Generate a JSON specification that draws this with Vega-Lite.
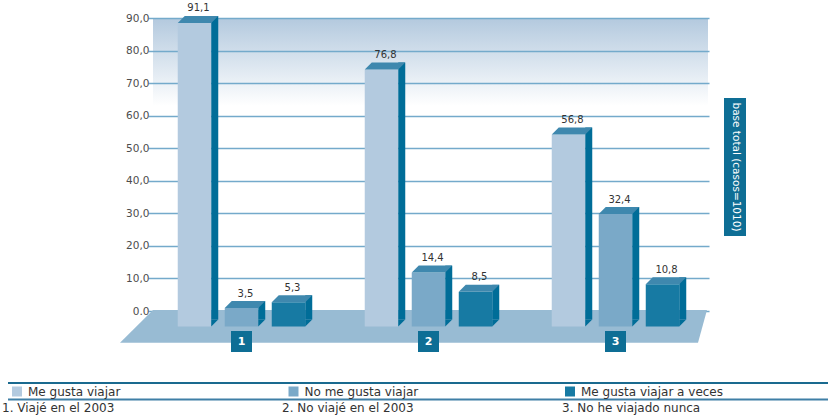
{
  "$schema": "https://vega.github.io/schema/vega-lite/v6.json",
  "width": 555,
  "height": 293,
  "autosize": {"type": "none"},
  "padding": {"left": 153, "top": 18, "right": 120, "bottom": 106},
  "background": "white",
  "view": {
    "stroke": null,
    "fill": {"gradient": "linear", "x1": 0, "y1": 0, "x2": 0, "y2": 1,
      "stops": [{"offset": 0, "color": "#b3c9de"}, {"offset": 0.3, "color": "#ffffff"}, {"offset": 1, "color": "#ffffff"}]}
  },
  "datasets": {
    "valores": [
      {"grupo": 1, "serie": "Me gusta viajar", "valor": 91.1},
      {"grupo": 1, "serie": "No me gusta viajar", "valor": 3.5},
      {"grupo": 1, "serie": "Me gusta viajar a veces", "valor": 5.3},
      {"grupo": 2, "serie": "Me gusta viajar", "valor": 76.8},
      {"grupo": 2, "serie": "No me gusta viajar", "valor": 14.4},
      {"grupo": 2, "serie": "Me gusta viajar a veces", "valor": 8.5},
      {"grupo": 3, "serie": "Me gusta viajar", "valor": 56.8},
      {"grupo": 3, "serie": "No me gusta viajar", "valor": 32.4},
      {"grupo": 3, "serie": "Me gusta viajar a veces", "valor": 10.8}
    ],
    "grupos": [
      {"grupo": 1, "desc": "1. Viajé en el 2003"},
      {"grupo": 2, "desc": "2. No viajé en el 2003"},
      {"grupo": 3, "desc": "3. No he viajado nunca"}
    ],
    "nota": [{"texto": "base total (casos=1010)"}]
  },
  "config": {
    "font": "DejaVu Sans",
    "locale": {"number": {"decimal": ",", "thousands": ".", "grouping": [3], "currency": ["", " €"]}}
  },
  "layer": [
    {
      "data": {"name": "nota"},
      "mark": {"type": "point", "shape": "M-88.5,-1L465.5,-1L456.5,31.7L-121.5,31.7Z", "size": 4, "filled": true, "opacity": 1, "strokeWidth": 0, "color": "#98bbd3"},
      "encoding": {
        "x": {"datum": 1, "type": "ordinal", "scale": {"domain": [1, 2, 3], "range": [-5, 556], "paddingInner": 0, "paddingOuter": 0}, "axis": null},
        "y": {"datum": 0, "type": "quantitative",
          "scale": {"domain": [0, 90], "nice": false, "zero": true},
          "axis": {"values": [0, 10, 20, 30, 40, 50, 60, 70, 80, 90], "tickCount": 10, "format": ".1f",
            "labelExpr": "datum.value == 0 ? '0.0' : datum.label", "labelOverlap": false,
            "domain": false, "ticks": false, "labelPadding": 4, "labelFontSize": 10.5,
            "labelColor": "#4d4d4d", "gridColor": "#74aacb", "gridWidth": 1.5, "title": null, "grid": true}}
      }
    },
    {
      "data": {"name": "nota"},
      "mark": {"type": "rule", "x": -145, "x2": 675, "color": "#1a6a8f", "strokeWidth": 2},
      "encoding": {"y": {"datum": -22.12, "type": "quantitative"}}
    },
    {
      "data": {"name": "nota"},
      "mark": {"type": "rule", "x": -145, "x2": 675, "color": "#3f7fa6", "strokeWidth": 2},
      "encoding": {"y": {"datum": -27.18, "type": "quantitative"}}
    },
    {
      "data": {"name": "grupos"},
      "mark": {"type": "point", "shape": "square", "size": 441, "filled": true, "opacity": 1, "strokeWidth": 0, "yOffset": 30.5},
      "encoding": {
        "x": {"field": "grupo", "type": "ordinal"},
        "y": {"datum": 0, "type": "quantitative"},
        "fill": {"field": "desc", "type": "nominal",
          "scale": {"domain": ["1. Viajé en el 2003", "2. No viajé en el 2003", "3. No he viajado nunca"], "range": ["#0e6e95", "#0e6e95", "#0e6e95"]},
          "legend": {"orient": "none", "legendX": -163, "legendY": 383.5, "direction": "horizontal", "columns": 3,
            "gridAlign": "all", "columnPadding": 129, "title": null, "symbolSize": 0, "symbolStrokeWidth": 0,
            "symbolOpacity": 0, "labelOffset": 0, "labelFontSize": 12, "labelColor": "#333333", "padding": 0}}
      }
    },
    {
      "data": {"name": "grupos"},
      "mark": {"type": "text", "yOffset": 30.5, "color": "white", "fontSize": 11, "fontWeight": "bold", "baseline": "middle", "align": "center"},
      "encoding": {
        "x": {"field": "grupo", "type": "ordinal"},
        "y": {"datum": 0, "type": "quantitative"},
        "text": {"field": "grupo", "type": "nominal"}
      }
    },
    {
      "data": {"name": "nota"},
      "mark": {"type": "point", "shape": "M108.5,-69L130.5,-69L130.5,69L108.5,69Z", "size": 4, "filled": true, "opacity": 1, "strokeWidth": 0, "color": "#0e6e95"},
      "encoding": {
        "x": {"datum": 3, "type": "ordinal"},
        "y": {"datum": 44.23, "type": "quantitative"}
      }
    },
    {
      "data": {"name": "nota"},
      "mark": {"type": "text", "xOffset": 120, "angle": 90, "color": "white", "fontSize": 10.5, "align": "center", "baseline": "middle"},
      "encoding": {
        "x": {"datum": 3, "type": "ordinal"},
        "y": {"datum": 44.23, "type": "quantitative"},
        "text": {"field": "texto", "type": "nominal"}
      }
    },
    {
      "data": {"name": "valores"},
      "mark": {"type": "bar", "width": 33.5, "yOffset": 8.5, "y2Offset": 15.5},
      "encoding": {
        "x": {"field": "grupo", "type": "ordinal"},
        "xOffset": {"field": "serie", "type": "nominal", "scale": {"domain": ["Me gusta viajar", "No me gusta viajar", "Me gusta viajar a veces"], "paddingInner": 0, "paddingOuter": 0.489}},
        "y": {"field": "valor", "type": "quantitative"},
        "y2": {"datum": 0},
        "color": {"field": "serie", "type": "nominal",
          "scale": {"domain": ["Me gusta viajar", "No me gusta viajar", "Me gusta viajar a veces"], "range": ["#b3cadf", "#7aa9c8", "#177aa3"]},
          "legend": {"orient": "none", "legendX": -142, "legendY": 367.5, "direction": "horizontal", "columns": 3,
            "gridAlign": "all", "columnPadding": 116.5, "title": null, "symbolType": "square", "symbolSize": 100,
            "symbolStrokeWidth": 0, "labelFontSize": 12, "labelColor": "#333333", "labelOffset": 5, "padding": 0,
            "encode": {"symbols": {"update": {"fill": {"signal": "datum.value == 'No me gusta viajar' ? '#4189b0' : datum.value == 'Me gusta viajar a veces' ? '#0a6c95' : '#b4cadf'"}}}}}}
      }
    },
    {
      "data": {"name": "valores"},
      "mark": {"type": "bar", "width": 7, "xOffset": {"expr": "indexof(['Me gusta viajar','No me gusta viajar','Me gusta viajar a veces'], datum.serie) * 47 - 26.75"}, "yOffset": 1.5, "y2Offset": 8.5, "color": "#006d98"},
      "encoding": {
        "x": {"field": "grupo", "type": "ordinal"},
        "y": {"field": "valor", "type": "quantitative"},
        "y2": {"datum": 0}
      }
    },
    {
      "data": {"name": "valores"},
      "mark": {"type": "point", "shape": "M16.75,8.5L16.75,15.5L23.75,8.5Z", "size": 4, "filled": true, "opacity": 1, "strokeWidth": 0, "color": "#006d98"},
      "encoding": {
        "x": {"field": "grupo", "type": "ordinal"},
        "xOffset": {"field": "serie", "type": "nominal"},
        "y": {"datum": 0, "type": "quantitative"}
      }
    },
    {
      "data": {"name": "valores"},
      "mark": {"type": "point", "shape": "M-16.75,8.5L16.75,8.5L23.75,1.5L-9.75,1.5Z", "size": 4, "filled": true, "opacity": 1, "strokeWidth": 0, "color": "#3f88ae"},
      "encoding": {
        "x": {"field": "grupo", "type": "ordinal"},
        "xOffset": {"field": "serie", "type": "nominal"},
        "y": {"field": "valor", "type": "quantitative"}
      }
    },
    {
      "data": {"name": "valores"},
      "mark": {"type": "text", "dx": 4, "yOffset": -6, "fontSize": 10, "color": "#333333", "baseline": "middle", "align": "center"},
      "encoding": {
        "x": {"field": "grupo", "type": "ordinal"},
        "xOffset": {"field": "serie", "type": "nominal"},
        "y": {"field": "valor", "type": "quantitative"},
        "text": {"field": "valor", "type": "quantitative", "format": ".1f"}
      }
    }
  ]
}
